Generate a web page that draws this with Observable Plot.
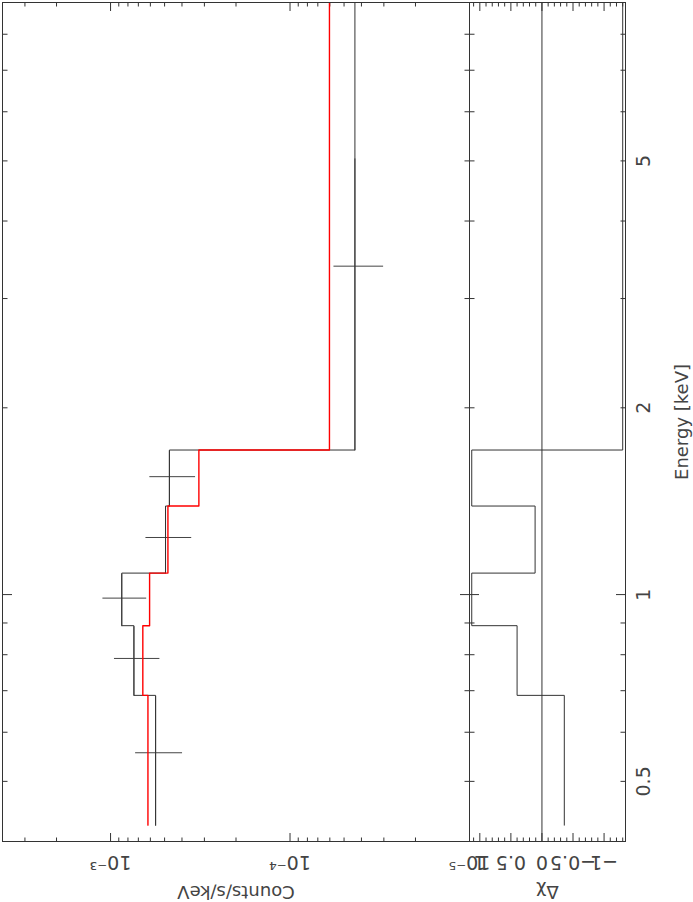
<!DOCTYPE html>
<html><head><meta charset="utf-8">
<script src="https://cdn.jsdelivr.net/npm/d3@7"></script>
<script src="https://cdn.jsdelivr.net/npm/@observablehq/plot@0.6"></script>
<style>
html,body{margin:0;padding:0;background:#fff;overflow:hidden;width:693px;height:902px;}
#wrap{position:absolute;left:0;top:0;width:902px;height:693px;transform-origin:0 0;transform:translate(0px,902px) rotate(-90deg);background:#fff;overflow:visible;}
#wrap svg{display:block;overflow:visible;}
#wrap svg.res{margin-top:-1px;}
</style></head><body><div id="wrap"></div>
<script>
// ---- data ----
const binLo      = [0.425, 0.688, 0.891, 1.083, 1.389, 1.710];
const binHi      = [0.688, 0.891, 1.083, 1.389, 1.710, 5.055];
const histEnd    = 12;            // last histogram step runs past the axis end (clipped)
const dataEnergy = [0.556, 0.789, 0.987, 1.236, 1.549, 3.383];
const dataRate   = [5.61e-4, 7.41e-4, 8.66e-4, 4.94e-4, 4.70e-4, 4.35e-5];
const dataErr    = [1.64e-4, 2.10e-4, 2.37e-4, 1.41e-4, 1.34e-4, 1.34e-5];
const modelRate  = [6.19e-4, 6.61e-4, 6.06e-4, 4.79e-4, 3.22e-4, 6.03e-5];
const residual   = [-0.36, 0.40, 1.13, 0.11, 1.13, -1.30];

// ---- axes ----
const energyDomain = [0.4, 9];
const rateDomain   = [1e-5, 4e-3];
const residDomain  = [-1.345, 1.166];
const energyLabelTicks = [0.5, 1, 2, 5];
const energyLabels     = ["0.5", "1", "2", "5"];
const energyMajorTicks = [1];
const energyMinorTicks = [0.4, 0.5, 0.6, 0.7, 0.8, 0.9, 2, 3, 4, 5, 6, 7, 8, 9];
const rateMajorTicks = [1e-5, 1e-4, 1e-3];
const rateLabels     = ["10⁻⁵", "10⁻⁴", "10⁻³"];
const rateMinorTicks = [2e-5, 3e-5, 4e-5, 5e-5, 6e-5, 7e-5, 8e-5, 9e-5,
                        2e-4, 3e-4, 4e-4, 5e-4, 6e-4, 7e-4, 8e-4, 9e-4,
                        2e-3, 3e-3, 4e-3];
const residMajorTicks = [-1, -0.5, 0, 0.5, 1];
const residLabels     = ["−1", "−0.5", "0", "0.5", "1"];
const residMinorTicks = [-1.3, -1.2, -1.1, -0.9, -0.8, -0.7, -0.6, -0.4, -0.3, -0.2, -0.1,
                         0.1, 0.2, 0.3, 0.4, 0.6, 0.7, 0.8, 0.9, 1.1];
const xTitle = "Energy [keV]";
const yTitle = "Counts/s/keV";
const rTitle = "Δχ";

const INK = "#333";
const TXT = "#444";
const FONT = "'DejaVu Sans', sans-serif";

// build tables
const bins = binLo.map((lo, i) => ({lo, hi: binHi[i], e: dataEnergy[i], rate: dataRate[i], err: dataErr[i], model: modelRate[i], res: residual[i]}));
const stepOf = (vals) => binLo.map((e, i) => ({e, v: vals[i]})).concat([{e: histEnd, v: vals[vals.length - 1]}]);

function xTicks(anchor) {
  return [
    Plot.axisX(energyMinorTicks, {anchor, tickSize: -4.5, tickFormat: () => "", label: null, stroke: INK}),
    Plot.axisX(energyMajorTicks, {anchor, tickSize: -9, tickFormat: () => "", label: null, stroke: INK})
  ];
}
function yTicks(minor, major) {
  return ["left", "right"].flatMap(anchor => [
    Plot.axisY(minor, {anchor, tickSize: -4.5, tickFormat: () => "", label: null, stroke: INK}),
    Plot.axisY(major, {anchor, tickSize: -9, tickFormat: () => "", label: null, stroke: INK})
  ]);
}
const style = {fontFamily: FONT, fontSize: "18px", color: INK, background: "transparent", overflow: "visible"};

const topPlot = Plot.plot({
  width: 902, height: 470,
  marginLeft: 60, marginRight: 3, marginTop: 2, marginBottom: 1,
  style,
  x: {type: "log", domain: energyDomain},
  y: {type: "log", domain: rateDomain},
  marks: [
    Plot.frame({stroke: INK}),
    ...xTicks("top"), ...xTicks("bottom"),
    ...yTicks(rateMinorTicks, rateMajorTicks),
    Plot.axisY(rateMajorTicks, {anchor: "left", tickSize: 0, tickRotate: -90, tickPadding: 14.7,
      tickFormat: d => rateLabels[rateMajorTicks.indexOf(d)], label: null, fontSize: 19, fill: TXT}),
    Plot.text([yTitle], {text: d => d, frameAnchor: "left", dx: -44.7, rotate: -90, textAnchor: "middle",
      lineAnchor: "bottom", fontSize: 18, fill: TXT, letterSpacing: 1.2}),
    Plot.ruleX(bins, {x: "e", y1: d => d.rate - d.err, y2: d => d.rate + d.err, stroke: "#444", strokeWidth: 1}),
    Plot.ruleY(bins, {y: "rate", x1: "lo", x2: "hi", stroke: "#444", strokeWidth: 1}),
    Plot.line(stepOf(dataRate), {x: "e", y: "v", curve: "step-after", stroke: "#333", strokeWidth: 1, clip: true}),
    Plot.line(stepOf(modelRate), {x: "e", y: "v", curve: "step-after", stroke: "#ff0000", strokeWidth: 1.4, clip: true})
  ]
});

const resPlot = Plot.plot({
  width: 902, height: 224,
  marginLeft: 60, marginRight: 3, marginTop: 0, marginBottom: 68,
  style,
  x: {type: "log", domain: energyDomain},
  y: {domain: residDomain},
  marks: [
    Plot.frame({stroke: INK}),
    ...xTicks("top"), ...xTicks("bottom"),
    ...yTicks(residMinorTicks, residMajorTicks),
    Plot.axisY(residMajorTicks, {anchor: "left", tickSize: 0, tickRotate: -90, tickPadding: 14.7,
      tickFormat: d => residLabels[residMajorTicks.indexOf(d)], label: null, fontSize: 19, fill: TXT}),
    Plot.axisX(energyLabelTicks, {anchor: "bottom", tickSize: 0, tickPadding: 10.5,
      tickFormat: d => energyLabels[energyLabelTicks.indexOf(d)], label: null, fontSize: 19, fill: TXT}),
    Plot.text([xTitle], {text: d => d, frameAnchor: "bottom", dy: 62.5, lineAnchor: "bottom", textAnchor: "middle",
      fontSize: 18, fill: TXT, letterSpacing: 1.5}),
    Plot.text([rTitle], {text: d => d, frameAnchor: "left", dx: -44.7, rotate: -90, textAnchor: "middle",
      lineAnchor: "bottom", fontSize: 18, fill: TXT}),
    Plot.ruleY([0], {stroke: "#333", strokeWidth: 1}),
    Plot.line(stepOf(residual), {x: "e", y: "v", curve: "step-after", stroke: "#333", strokeWidth: 1, clip: true})
  ]
});
resPlot.classList.add("res");

const wrap = document.getElementById("wrap");
wrap.appendChild(topPlot);
wrap.appendChild(resPlot);
</script>
</body></html>
